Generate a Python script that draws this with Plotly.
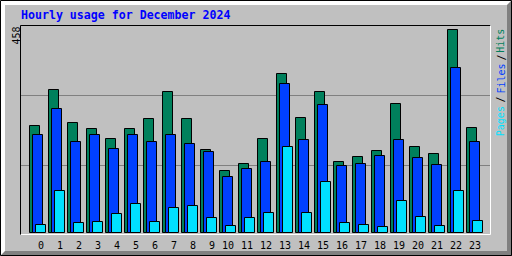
import plotly.graph_objects as go

# ---- data ----
hours = list(range(24))
hour_labels = [str(h) for h in hours]
hits = [241, 323, 248, 235, 212, 235, 257, 318, 257, 187, 140, 156,
        212, 359, 259, 318, 160, 171, 185, 291, 194, 178, 458, 237]
files = [221, 280, 205, 221, 190, 221, 205, 221, 201, 183, 126, 144,
         160, 336, 210, 289, 151, 156, 174, 210, 169, 153, 372, 205]
pages = [18, 95, 23, 25, 43, 65, 25, 56, 61, 34, 16, 34,
         45, 194, 45, 115, 23, 18, 14, 72, 36, 16, 95, 27]

title = "Hourly usage for December 2024"
HIT_C, FILE_C, PAGE_C = "#00805c", "#0040ff", "#00e0ff"
BG = "#c0c0c0"
DK = "#808080"

W, H = 512, 256
L, T, R, B = 20, 25, 491, 235  # plot area in pixels
PW, PH = R - L, B - T
U = 19.0  # pixels per hour

def px(p):
    return (p - L) / PW

def py(p):
    return (B - p) / PH

ymax = max(hits)
sc = 203.0 / ymax  # pixels per unit
y0 = -(B - 233) / sc
y1 = (233 - T) / sc
x0 = -21 / U
x1 = x0 + PW / U

fig = go.Figure()
for vals, col, off in [(hits, HIT_C, -11), (files, FILE_C, -8), (pages, PAGE_C, -5)]:
    fig.add_trace(go.Bar(
        x=hours, y=vals, offset=off / U, width=10 / U,
        marker=dict(color=col, line=dict(color="black", width=1)),
        hoverinfo="skip"))

shapes = []
# gridlines
for gy in (95.5, 165.5):
    shapes.append(dict(type="line", xref="paper", yref="paper", x0=px(21), x1=px(490),
                       y0=py(gy), y1=py(gy), line=dict(color=DK, width=1), layer="below"))
# outer frame: white top/left, dark grey bottom/right, black outline
shapes.append(dict(type="rect", xref="paper", yref="paper", x0=px(0), x1=px(W), y0=py(0), y1=py(5),
                   fillcolor="white", line=dict(width=0), layer="below"))
shapes.append(dict(type="rect", xref="paper", yref="paper", x0=px(0), x1=px(5), y0=py(0), y1=py(H),
                   fillcolor="white", line=dict(width=0), layer="below"))
pts = [(0, H), (W, H), (W, 0), (507, 5), (507, 251), (5, 251)]
path = "M " + " L ".join(f"{px(a):.6f},{py(b):.6f}" for a, b in pts) + " Z"
shapes.append(dict(type="path", xref="paper", yref="paper", path=path,
                   fillcolor=DK, line=dict(width=0), layer="below"))
shapes.append(dict(type="rect", xref="paper", yref="paper", x0=px(0.5), x1=px(511.5), y0=py(0.5), y1=py(255.5),
                   line=dict(color="black", width=1), layer="above"))
# plot area bevel
shapes.append(dict(type="line", xref="paper", yref="paper", x0=px(20.5), x1=px(490.5), y0=py(25.5), y1=py(25.5),
                   line=dict(color="black", width=1)))
shapes.append(dict(type="line", xref="paper", yref="paper", x0=px(20.5), x1=px(20.5), y0=py(25.5), y1=py(234.5),
                   line=dict(color="black", width=1)))
shapes.append(dict(type="line", xref="paper", yref="paper", x0=px(490.5), x1=px(490.5), y0=py(25.5), y1=py(234.5),
                   line=dict(color="white", width=1)))
shapes.append(dict(type="line", xref="paper", yref="paper", x0=px(21), x1=px(490.5), y0=py(234.5), y1=py(234.5),
                   line=dict(color="white", width=1)))

mono = "DejaVu Sans Mono"
ann = [
    dict(text=f"<b>{title}</b>", x=px(20), y=py(15.5), xanchor="left", yanchor="middle",
         font=dict(family=mono, size=11.6, color="#0000ff")),
    dict(text=str(ymax), x=px(15.5), y=py(36), xanchor="center", yanchor="middle", textangle=-90,
         font=dict(family=mono, size=10, color="black")),
]
legend_parts = [("Hits", HIT_C, 41.3), ("/", "black", 58), ("Files", FILE_C, 79),
                ("/", "black", 100), ("Pages", PAGE_C, 121.7)]
for txt, col, cy in legend_parts:
    ann.append(dict(text=txt, x=px(500.5), y=py(cy), xanchor="center", yanchor="middle", textangle=-90,
                    font=dict(family=mono, size=10, color=col)))
for a in ann:
    a.update(xref="paper", yref="paper", showarrow=False, borderpad=0)

tickvals = [h - (3 / U if len(lbl) > 1 else 0) for h, lbl in zip(hours, hour_labels)]

fig.update_layout(
    width=W, height=H, margin=dict(l=L, r=W - R, t=T, b=H - B, pad=0, autoexpand=False),
    paper_bgcolor=BG, plot_bgcolor="rgba(0,0,0,0)",
    barmode="overlay", showlegend=False, bargap=0,
    shapes=shapes, annotations=ann,
    xaxis=dict(range=[x0, x1], tickvals=tickvals, ticktext=hour_labels, ticks="",
               automargin=False, ticklabelstandoff=3,
               showgrid=False, zeroline=False, showline=False, fixedrange=True,
               tickfont=dict(family=mono, size=10, color="black")),
    yaxis=dict(range=[y0, y1], showticklabels=False, ticks="", showgrid=False, automargin=False,
               zeroline=False, showline=False, fixedrange=True),
)
fig.write_html("out.html", config={"displayModeBar": False})
